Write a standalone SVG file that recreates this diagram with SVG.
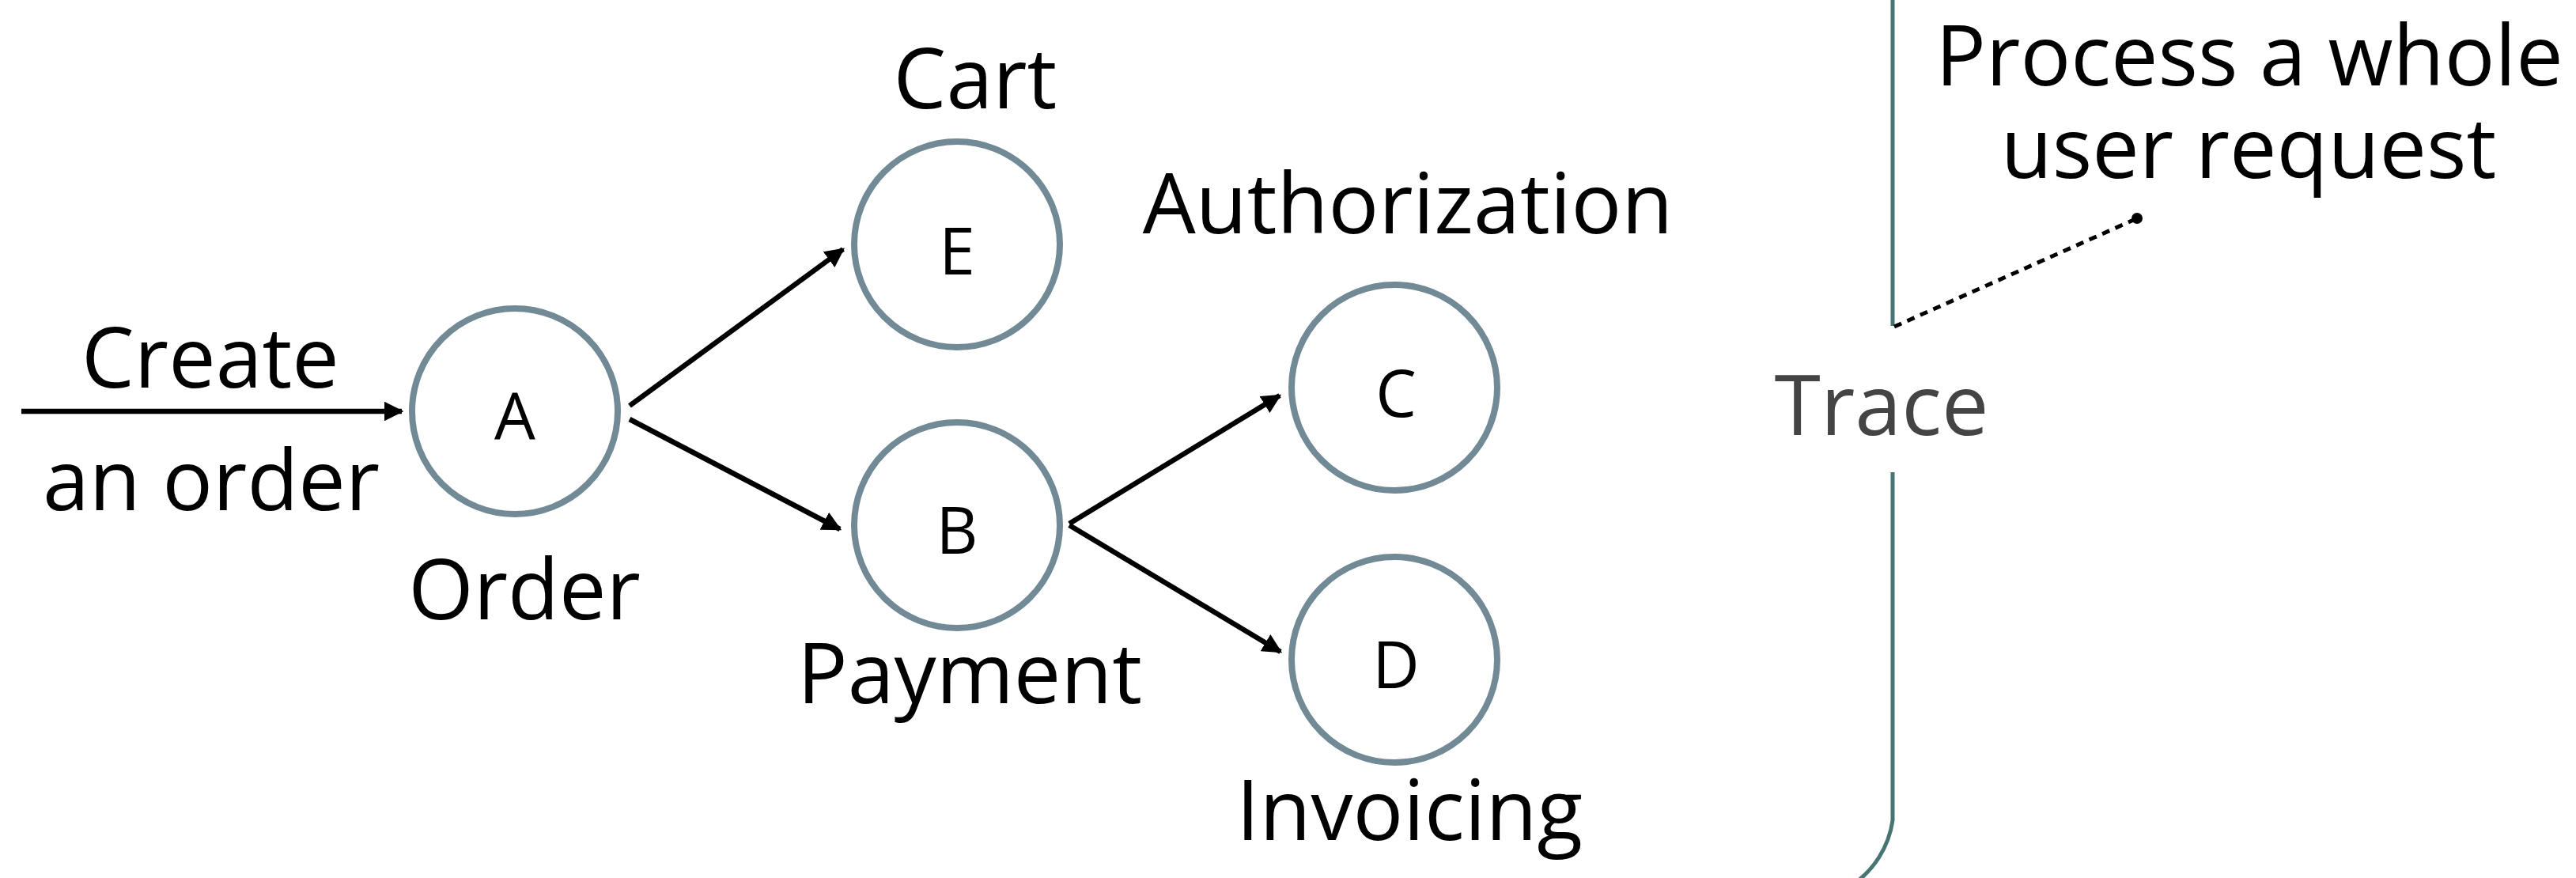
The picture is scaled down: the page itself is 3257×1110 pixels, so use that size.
<svg xmlns="http://www.w3.org/2000/svg" width="3257" height="1110" viewBox="0 0 3257 1110">
  <defs>
    <style>
      .node { fill: #ffffff; stroke: #718a95; stroke-width: 8; }
      .lbl { font-family: "Open Sans", "Noto Sans", sans-serif; font-size: 106px; fill: #000000; text-anchor: middle; }
      .id { font-family: "Open Sans", "Noto Sans", sans-serif; font-size: 82px; fill: #000000; text-anchor: middle; }
      .edge { stroke: #000000; stroke-width: 6.5; fill: none; marker-end: url(#arrow); }
      .bracket { stroke: #467574; stroke-width: 5; fill: none; }
    </style>
    <marker id="arrow" viewBox="0 0 10 10" refX="9" refY="5" markerWidth="3.8" markerHeight="3.8" orient="auto" markerUnits="strokeWidth">
      <path d="M0,0 L10,5 L0,10 Z" fill="#000000"/>
    </marker>
  </defs>
  <rect width="3257" height="1110" fill="#ffffff"/>

  <!-- connectors -->
  <g id="connectors">
    <line class="edge" x1="27" y1="520" x2="508" y2="520"/>
    <line class="edge" x1="796" y1="513" x2="1066" y2="315"/>
    <line class="edge" x1="796" y1="530" x2="1062" y2="669"/>
    <line class="edge" x1="1352" y1="662" x2="1618" y2="500"/>
    <line class="edge" x1="1352" y1="664" x2="1619" y2="824"/>
  </g>

  <!-- input label -->
  <g id="request-label">
    <text class="lbl" x="266" y="490">Create</text>
    <text class="lbl" x="267" y="645">an order</text>
  </g>

  <g id="node-a">
    <circle class="node" cx="651" cy="520" r="130"/>
    <text class="id" x="651" y="556">A</text>
    <text class="lbl" x="663" y="783">Order</text>
  </g>

  <g id="node-e">
    <circle class="node" cx="1210" cy="309" r="130"/>
    <text class="id" x="1210" y="347">E</text>
    <text class="lbl" x="1233" y="137">Cart</text>
  </g>

  <g id="node-b">
    <circle class="node" cx="1210" cy="664" r="130"/>
    <text class="id" x="1210" y="700">B</text>
    <text class="lbl" x="1226" y="889">Payment</text>
  </g>

  <g id="node-c">
    <circle class="node" cx="1763" cy="490" r="130"/>
    <text class="id" x="1765" y="527">C</text>
    <text class="lbl" x="1780" y="295">Authorization</text>
  </g>

  <g id="node-d">
    <circle class="node" cx="1763" cy="834" r="130"/>
    <text class="id" x="1765" y="870">D</text>
    <text class="lbl" x="1782" y="1062">Invoicing</text>
  </g>

  <!-- trace bracket with callout -->
  <g id="trace">
    <line class="bracket" x1="2393" y1="0" x2="2393" y2="412"/>
    <path class="bracket" d="M2393,597 L2393,1037 A119,119 0 0 1 2340,1120"/>
    <text x="2379" y="550" font-family="'Open Sans', 'Noto Sans', sans-serif" font-size="106" fill="#444444" text-anchor="middle">Trace</text>
    <line x1="2395" y1="413" x2="2700" y2="277" stroke="#000000" stroke-width="5" stroke-dasharray="10,8"/>
    <circle cx="2702" cy="276" r="7" fill="#000000"/>
    <text class="lbl" x="2844" y="108">Process a whole</text>
    <text class="lbl" x="2843" y="225">user request</text>
  </g>
</svg>
